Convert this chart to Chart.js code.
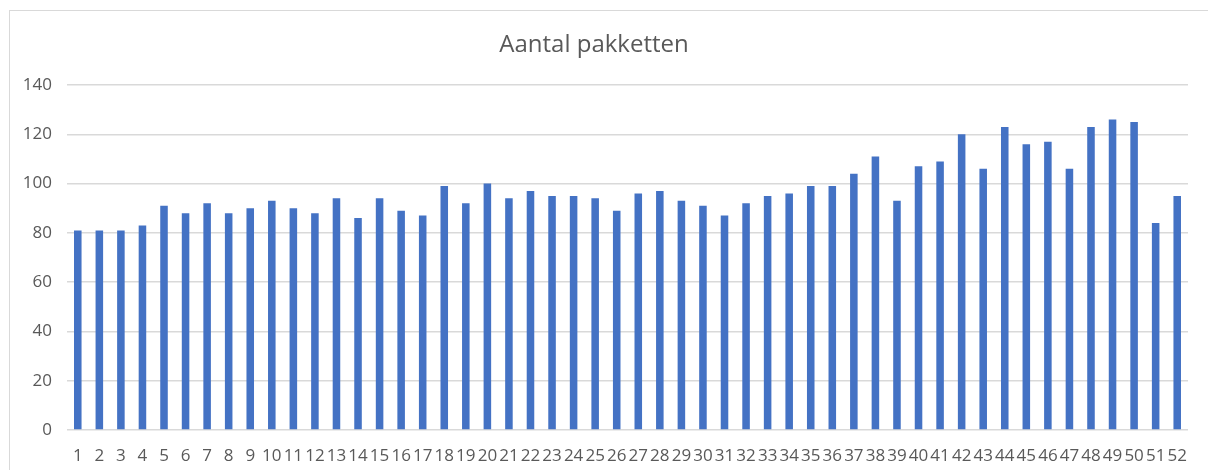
<!DOCTYPE html>
<html>
<head>
<meta charset="utf-8">
<script src="https://cdn.jsdelivr.net/npm/chart.js@4.4.1/dist/chart.umd.min.js"></script>
<style>
  html, body { margin: 0; padding: 0; background: #fff; }
  #wrap { position: relative; width: 1208px; height: 470px; overflow: hidden; }
  #frame { position: absolute; left: 9px; top: 10px; width: 1300px; height: 500px;
           border-left: 1px solid #d9d9d9; border-top: 1px solid #d9d9d9; }
  #chart { position: absolute; left: 0; top: 0; }
</style>
</head>
<body>
<div id="wrap">
  <div id="frame"></div>
  <canvas id="chart" width="1208" height="470"></canvas>
</div>
<script>
// weeknummers 1..52
const weken = ['1','2','3','4','5','6','7','8','9','10','11','12','13','14','15','16','17','18','19','20',
               '21','22','23','24','25','26','27','28','29','30','31','32','33','34','35','36','37','38','39','40',
               '41','42','43','44','45','46','47','48','49','50','51','52'];
const pakketten = [81, 81, 81, 83, 91, 88, 92, 88, 90, 93, 90, 88, 94, 86, 94, 89, 87, 99, 92, 100,
                   94, 97, 95, 95, 94, 89, 96, 97, 93, 91, 87, 92, 95, 96, 99, 99, 104, 111, 93, 107,
                   109, 120, 106, 123, 116, 117, 106, 123, 126, 125, 84, 95];
const yMin = 0, yMax = 140, yStep = 20;

const textColor = '#595959';
const gridColor = '#d9d9d9';
const fontFam = "'Open Sans', 'Noto Sans', sans-serif";

const ctx = document.getElementById('chart').getContext('2d');
const chart = new Chart(ctx, {
    type: 'bar',
    data: {
        labels: weken,
        datasets: [
            { label: 'Aantal pakketten', data: pakketten, backgroundColor: '#4472c4',
              borderWidth: 0, categoryPercentage: 1.0, barPercentage: 0.35 }
        ]
    },
    options: {
        responsive: false,
        animation: false,
        layout: { padding: { left: 0, right: 20, top: 0, bottom: 0 } },
        plugins: {
            legend: { display: false },
            tooltip: { enabled: false },
            title: {
                display: true,
                text: 'Aantal pakketten',
                color: textColor,
                font: { family: fontFam, size: 24, weight: 'normal', lineHeight: 1.2 },
                padding: { top: 31, bottom: 25.2 }
            }
        },
        scales: {
            x: {
                grid: { display: false },
                border: { display: false },
                ticks: {
                    color: textColor, font: { family: fontFam, size: 17 },
                    autoSkip: false, maxRotation: 0, minRotation: 0, padding: 8
                },
                afterFit: (scale) => { scale.height = 40; }
            },
            y: {
                min: yMin, max: yMax,
                grid: { color: gridColor, lineWidth: 1.5, drawTicks: false },
                border: { display: false },
                ticks: {
                    stepSize: yStep, color: textColor, font: { family: fontFam, size: 17 }, padding: 15
                },
                afterFit: (scale) => { scale.width = 67; }
            }
        }
    }
});
</script>
</body>
</html>
